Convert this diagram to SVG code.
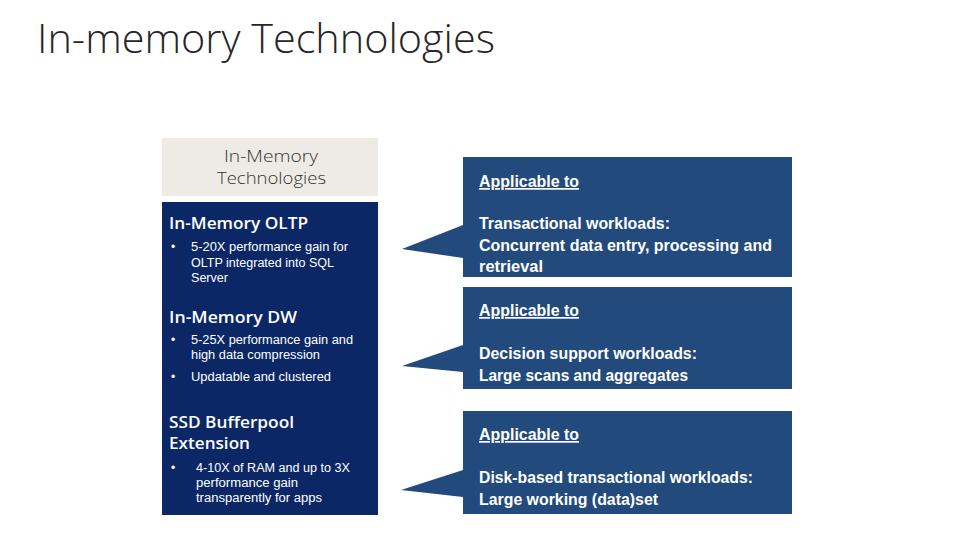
<svg xmlns="http://www.w3.org/2000/svg" width="960" height="540" viewBox="0 0 960 540">
<style>
.title{font-family:"Open Sans","Liberation Sans",sans-serif;font-weight:300;font-size:40px;fill:#262626}
.hdr{font-family:"Open Sans","Liberation Sans",sans-serif;font-weight:300;font-size:16.5px;fill:#333333}
.sec{font-family:"Open Sans","Liberation Sans",sans-serif;font-weight:600;font-size:17px;fill:#ffffff}
.bul{font-family:"Liberation Sans",sans-serif;font-size:12px;fill:#ffffff}
.co{font-family:"Liberation Sans",sans-serif;font-weight:bold;font-size:17px;fill:#ffffff}
.u{text-decoration:underline}
.panel{fill:#0b2766}
.callout{fill:#234a7c}
</style>
<rect width="960" height="540" fill="#ffffff"/>
<text class="title" x="37" y="53" textLength="458" lengthAdjust="spacingAndGlyphs">In-memory Technologies</text>

<g id="header">
<rect x="162" y="138" width="216" height="58" fill="#eeebe4"/>
<text class="hdr" x="224" y="162" textLength="94" lengthAdjust="spacingAndGlyphs">In-Memory</text>
<text class="hdr" x="217" y="184" textLength="109" lengthAdjust="spacingAndGlyphs">Technologies</text>
</g>

<g id="panel">
<rect class="panel" x="162" y="202" width="216" height="313"/>
<text class="sec" x="169" y="229" textLength="139" lengthAdjust="spacingAndGlyphs">In-Memory OLTP</text>
<text class="bul" x="171" y="251">•</text>
<text class="bul" x="191" y="251" textLength="157" lengthAdjust="spacingAndGlyphs">5-20X performance gain for</text>
<text class="bul" x="191" y="267" textLength="143" lengthAdjust="spacingAndGlyphs">OLTP integrated into SQL</text>
<text class="bul" x="191" y="282" textLength="37" lengthAdjust="spacingAndGlyphs">Server</text>

<text class="sec" x="169" y="323" textLength="128" lengthAdjust="spacingAndGlyphs">In-Memory DW</text>
<text class="bul" x="171" y="344">•</text>
<text class="bul" x="191" y="344" textLength="162" lengthAdjust="spacingAndGlyphs">5-25X performance gain and</text>
<text class="bul" x="191" y="359" textLength="129" lengthAdjust="spacingAndGlyphs">high data compression</text>
<text class="bul" x="171" y="381">•</text>
<text class="bul" x="191" y="381" textLength="140" lengthAdjust="spacingAndGlyphs">Updatable and clustered</text>

<text class="sec" x="169" y="428" textLength="125" lengthAdjust="spacingAndGlyphs">SSD Bufferpool</text>
<text class="sec" x="169" y="449" textLength="81" lengthAdjust="spacingAndGlyphs">Extension</text>
<text class="bul" x="171" y="472">•</text>
<text class="bul" x="196" y="472" textLength="154" lengthAdjust="spacingAndGlyphs">4-10X of RAM and up to 3X</text>
<text class="bul" x="196" y="487" textLength="102" lengthAdjust="spacingAndGlyphs">performance gain</text>
<text class="bul" x="196" y="502" textLength="126" lengthAdjust="spacingAndGlyphs">transparently for apps</text>
</g>

<g id="callout-oltp">
<path class="callout" d="M463 157 H792 V277 H463 V258 L402 249 L463 225 Z"/>
<text class="co u" x="479" y="187" textLength="100" lengthAdjust="spacingAndGlyphs">Applicable to</text>
<text class="co" x="479" y="229" textLength="191" lengthAdjust="spacingAndGlyphs">Transactional workloads:</text>
<text class="co" x="479" y="251" textLength="293" lengthAdjust="spacingAndGlyphs">Concurrent data entry, processing and</text>
<text class="co" x="479" y="272" textLength="64" lengthAdjust="spacingAndGlyphs">retrieval</text>
</g>

<g id="callout-dw">
<path class="callout" d="M463 287 H792 V389 H463 V372 L402 366 L463 345 Z"/>
<text class="co u" x="479" y="316" textLength="100" lengthAdjust="spacingAndGlyphs">Applicable to</text>
<text class="co" x="479" y="359" textLength="218" lengthAdjust="spacingAndGlyphs">Decision support workloads:</text>
<text class="co" x="479" y="381" textLength="209" lengthAdjust="spacingAndGlyphs">Large scans and aggregates</text>
</g>

<g id="callout-ssd">
<path class="callout" d="M463 411 H792 V514 H463 V497 L401 490 L463 470 Z"/>
<text class="co u" x="479" y="440" textLength="100" lengthAdjust="spacingAndGlyphs">Applicable to</text>
<text class="co" x="479" y="483" textLength="274" lengthAdjust="spacingAndGlyphs">Disk-based transactional workloads:</text>
<text class="co" x="479" y="505" textLength="179" lengthAdjust="spacingAndGlyphs">Large working (data)set</text>
</g>

<g id="connectors"></g>
</svg>
